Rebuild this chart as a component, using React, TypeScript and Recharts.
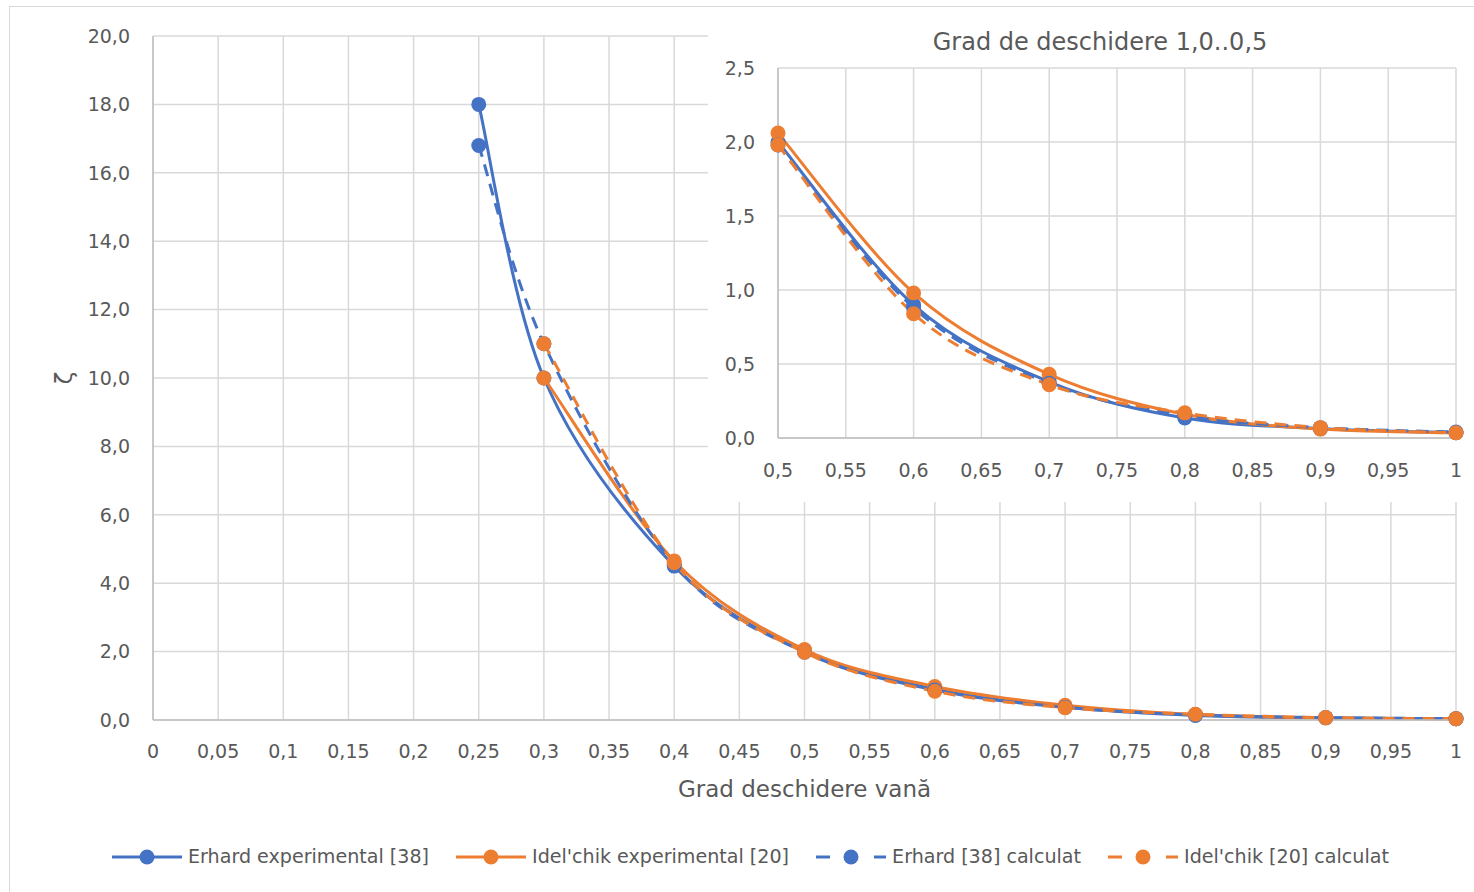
import React from "react";
import { LineChart, Line, XAxis, YAxis, CartesianGrid, Label } from "recharts";

const BLUE = "#4472C4";
const ORANGE = "#ED7D31";
const FONT = "'DejaVu Sans', sans-serif";

// grad de deschidere (x) for each series
const erhardX = [0.25, 0.3, 0.4, 0.5, 0.6, 0.7, 0.8, 0.9, 1];
const idelchikX = [0.3, 0.4, 0.5, 0.6, 0.7, 0.8, 0.9, 1];

// zeta values
const erhardExp = [18.0, 10.0, 4.5, 2.0, 0.9, 0.38, 0.135, 0.065, 0.035];
const idelchikExp = [10.0, 4.65, 2.06, 0.98, 0.43, 0.16, 0.06, 0.035];
const erhardCalc = [16.8, 11.0, 4.55, 1.98, 0.88, 0.37, 0.15, 0.07, 0.04];
const idelchikCalc = [11.0, 4.6, 1.98, 0.84, 0.36, 0.17, 0.07, 0.035];

const mainXTicks = [0, 0.05, 0.1, 0.15, 0.2, 0.25, 0.3, 0.35, 0.4, 0.45, 0.5, 0.55, 0.6, 0.65, 0.7, 0.75, 0.8, 0.85, 0.9, 0.95, 1];
const mainYTicks = [0, 2, 4, 6, 8, 10, 12, 14, 16, 18, 20];
const insetXTicks = [0.5, 0.55, 0.6, 0.65, 0.7, 0.75, 0.8, 0.85, 0.9, 0.95, 1];
const insetYTicks = [0, 0.5, 1, 1.5, 2, 2.5];

const toPoints = (xs: number[], ys: number[]) => xs.map((x, i) => ({ x, y: ys[i] }));

const series = [
  { name: "Erhard experimental [38]", color: BLUE, dashed: false, data: toPoints(erhardX, erhardExp) },
  { name: "Idel'chik experimental [20]", color: ORANGE, dashed: false, data: toPoints(idelchikX, idelchikExp) },
  { name: "Erhard [38] calculat", color: BLUE, dashed: true, data: toPoints(erhardX, erhardCalc) },
  { name: "Idel'chik [20] calculat", color: ORANGE, dashed: true, data: toPoints(idelchikX, idelchikCalc) },
];

// Excel-like smoothing (Catmull-Rom through the points)
function excelSmooth(context: any) {
  let pts: number[][] = [];
  return {
    areaStart() {},
    areaEnd() {},
    lineStart() {
      pts = [];
    },
    point(x: number, y: number) {
      pts.push([+x, +y]);
    },
    lineEnd() {
      const n = pts.length;
      if (!n) return;
      context.moveTo(pts[0][0], pts[0][1]);
      for (let i = 0; i < n - 1; i++) {
        const p0 = pts[Math.max(i - 1, 0)];
        const p1 = pts[i];
        const p2 = pts[i + 1];
        const p3 = pts[Math.min(i + 2, n - 1)];
        context.bezierCurveTo(
          p1[0] + (p2[0] - p0[0]) / 6,
          p1[1] + (p2[1] - p0[1]) / 6,
          p2[0] - (p3[0] - p1[0]) / 6,
          p2[1] - (p3[1] - p1[1]) / 6,
          p2[0],
          p2[1]
        );
      }
    },
  };
}

const fmtX = (v: number) => String(v).replace(".", ",");
const fmtY = (v: number) => v.toFixed(1).replace(".", ",");
const tick = { fill: "#595959", fontSize: 19, fontFamily: FONT };

function renderLines(minX: number) {
  return series.map((s) => (
    <Line
      key={s.name}
      data={s.data.filter((p) => p.x >= minX)}
      dataKey="y"
      type={excelSmooth as any}
      stroke={s.color}
      strokeWidth={3}
      strokeDasharray={s.dashed ? "12 8" : undefined}
      dot={{ r: 7.5, fill: s.color, stroke: s.color, strokeWidth: 0 }}
      activeDot={false}
      isAnimationActive={false}
    />
  ));
}

function LegendIcon({ color, dashed }: { color: string; dashed: boolean }) {
  return (
    <svg width={70} height={16} style={{ display: "block" }}>
      {dashed ? (
        <>
          <line x1={0} y1={8} x2={14} y2={8} stroke={color} strokeWidth={3} />
          <line x1={58} y1={8} x2={70} y2={8} stroke={color} strokeWidth={3} />
        </>
      ) : (
        <line x1={0} y1={8} x2={70} y2={8} stroke={color} strokeWidth={3} />
      )}
      <circle cx={35} cy={8} r={7.5} fill={color} />
    </svg>
  );
}

export default function App() {
  return (
    <div style={{ position: "absolute", left: 0, top: 0, width: 1474, height: 892, background: "#fff", overflow: "hidden", fontFamily: FONT }}>
      <div style={{ position: "absolute", left: 9, top: 6, width: 1470, height: 900, border: "1px solid #d9d9d9", boxSizing: "border-box" }} />

      <div style={{ position: "absolute", left: 0, top: 0 }}>
        <LineChart width={1474} height={892} margin={{ top: 36, right: 18, left: 0, bottom: 82 }}>
          <CartesianGrid stroke="#d9d9d9" strokeWidth={1.5} />
          <XAxis
            type="number"
            dataKey="x"
            domain={[0, 1]}
            ticks={mainXTicks}
            tickFormatter={fmtX}
            tickLine={false}
            axisLine={{ stroke: "#bfbfbf", strokeWidth: 1.5 }}
            tick={tick}
            tickMargin={19}
            height={90}
            interval={0}
            allowDuplicatedCategory={false}
          >
            <Label value="Grad deschidere vană" position="insideBottom" offset={13} style={{ fill: "#595959", fontSize: 23, fontFamily: FONT }} />
          </XAxis>
          <YAxis
            type="number"
            domain={[0, 20]}
            ticks={mainYTicks}
            tickFormatter={fmtY}
            tickLine={false}
            axisLine={{ stroke: "#bfbfbf", strokeWidth: 1.5 }}
            tick={tick}
            tickMargin={17}
            width={153}
            interval={0}
          >
            <Label value="ζ" angle={-90} position="insideLeft" offset={64} style={{ fill: "#595959", fontSize: 23, fontFamily: FONT, textAnchor: "middle" }} />
          </YAxis>
          {renderLines(0)}
        </LineChart>
      </div>

      <div style={{ position: "absolute", left: 708, top: 7, width: 766, height: 495, background: "#fff" }}>
        <div style={{ position: "absolute", left: 0, width: 784, top: 21, textAlign: "center", color: "#595959", fontSize: 24 }}>
          Grad de deschidere 1,0..0,5
        </div>
        <LineChart width={766} height={495} margin={{ top: 61, right: 18, left: 0, bottom: 24 }}>
          <CartesianGrid stroke="#d9d9d9" strokeWidth={1.5} />
          <XAxis
            type="number"
            dataKey="x"
            domain={[0.5, 1]}
            ticks={insetXTicks}
            tickFormatter={fmtX}
            tickLine={false}
            axisLine={{ stroke: "#bfbfbf", strokeWidth: 1.5 }}
            tick={tick}
            tickMargin={20}
            height={40}
            interval={0}
            allowDuplicatedCategory={false}
          />
          <YAxis
            type="number"
            domain={[0, 2.5]}
            ticks={insetYTicks}
            tickFormatter={fmtY}
            tickLine={false}
            axisLine={{ stroke: "#bfbfbf", strokeWidth: 1.5 }}
            tick={tick}
            tickMargin={17}
            width={70}
            interval={0}
          />
          {renderLines(0.5)}
        </LineChart>
      </div>

      <div style={{ position: "absolute", left: 112, top: 845, display: "flex", alignItems: "center", gap: 27, color: "#595959", fontSize: 19.1, whiteSpace: "nowrap" }}>
        {series.map((s) => (
          <div key={s.name} style={{ display: "flex", alignItems: "center", gap: 6 }}>
            <LegendIcon color={s.color} dashed={s.dashed} />
            <span>{s.name}</span>
          </div>
        ))}
      </div>
    </div>
  );
}
